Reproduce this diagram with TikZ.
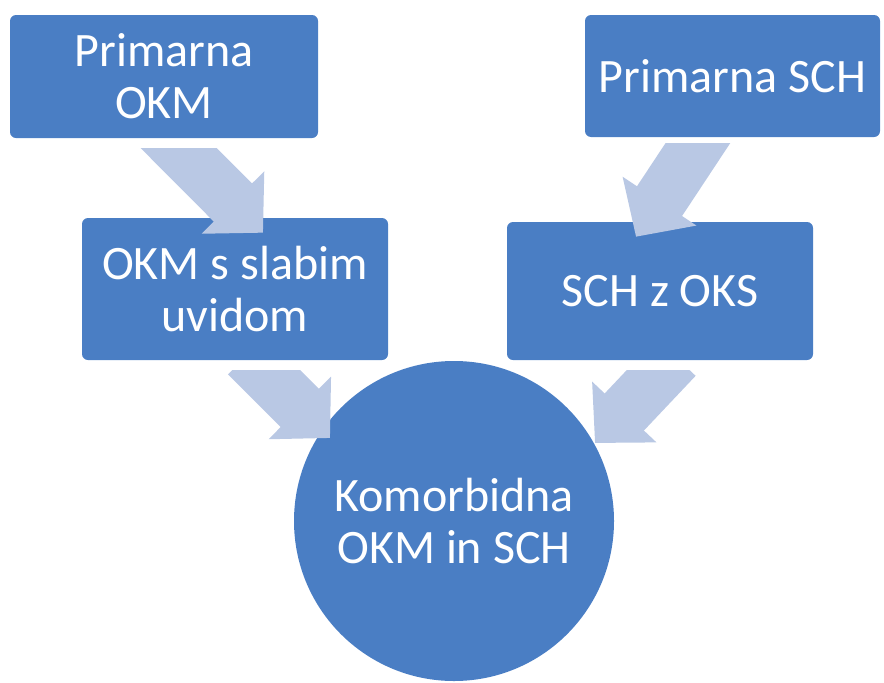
\documentclass[tikz,border=0pt]{standalone}
\usepackage{fontspec}
\setmainfont{Carlito}
\usetikzlibrary{positioning, arrows.meta}
\definecolor{Plava}{HTML}{4A7EC4}
\definecolor{Svetla}{HTML}{B9C8E4}
\tikzset{
  polje/.style    = {rectangle, rounded corners=4.5pt, fill=Plava, text=white,
                     align=center, font=\fontsize{36}{39}\selectfont, inner sep=0pt},
  krog/.style     = {circle, fill=Plava, text=white, align=center,
                     font=\fontsize{36}{39}\selectfont, inner sep=0pt,
                     minimum size=240pt},
  puscica/.style  = {draw=Svetla, line width=40.5pt,
                     -{Triangle[length=32pt, width=64.5pt]}},
}

\begin{document}
\begin{tikzpicture}[x=0.75pt, y=-0.75pt]
  \useasboundingbox (0,0) rectangle (884,682);

  \node[polje, minimum width=231pt, minimum height=92.25pt]
        (okm) at (164,76.5) {Primarna\\OKM};
  \node[polje, minimum width=221.25pt, minimum height=91.5pt]
        (sch) at (732.5,76) {Primarna SCH};
  \node[polje, minimum width=229.5pt, minimum height=106.5pt]
        (okmuvid) at (235,289) {OKM s slabim\\uvidom};
  \node[polje, minimum width=229.5pt, minimum height=103.5pt]
        (schoks) at (660,291) {SCH z OKS};
  \node[krog] (komorb) at (454,521) {Komorbidna\\OKM in SCH};

  % puscice, rep odrezan vodoravno pod poljem
  \begin{scope}
    \clip ([shift={(-150,10)}]okm.south) rectangle ++(300,120);
    \draw[puscica] ([shift={(-5,-10)}]okm.south) -- ([shift={(28,15)}]okmuvid.north);
  \end{scope}
  \begin{scope}
    \clip ([shift={(-200,6)}]sch.south) rectangle ++(300,120);
    \draw[puscica] ([shift={(-23.5,-11)}]sch.south) -- ([shift={(-24,15)}]schoks.north);
  \end{scope}
  \begin{scope}
    \clip ([shift={(-100,10)}]okmuvid.south) rectangle ++(300,120);
    \draw[puscica] ([shift={(12,-5)}]okmuvid.south) -- ([shift={(-124,-83)}]komorb.center);
  \end{scope}
  \begin{scope}
    \clip ([shift={(-150,10)}]schoks.south) rectangle ++(300,120);
    \draw[puscica] ([shift={(16,-3)}]schoks.south) -- ([shift={(141,-78)}]komorb.center);
  \end{scope}
\end{tikzpicture}
\end{document}
